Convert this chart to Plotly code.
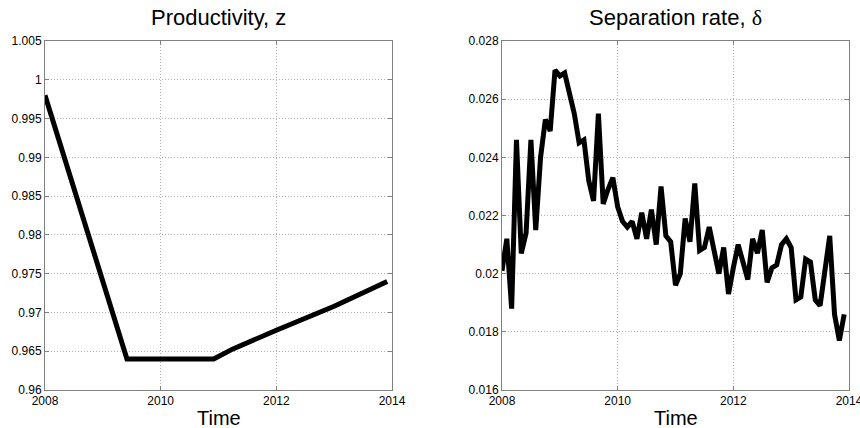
import plotly.graph_objects as go

# ---- data ----
z_time = [2008.0, 2009.417, 2010.917, 2011.25, 2012.0, 2013.0, 2013.917]
z_vals = [0.998, 0.964, 0.964, 0.9653, 0.9677, 0.9708, 0.974]

delta_start = 2008.0
delta_vals = [
    0.0201, 0.0212, 0.0188, 0.0246, 0.0207, 0.0214, 0.0246, 0.0215, 0.0240, 0.0253, 0.0249, 0.0270,
    0.0268, 0.0269, 0.0262, 0.0255, 0.0245, 0.0246, 0.0232, 0.0225, 0.0255, 0.0224, 0.0229, 0.0233,
    0.0223, 0.0218, 0.0216, 0.0218, 0.0212, 0.0221, 0.0212, 0.0222, 0.0210, 0.0230, 0.0213, 0.0211,
    0.0196, 0.0200, 0.0219, 0.0211, 0.0231, 0.0208, 0.0209, 0.0216, 0.0208, 0.0200, 0.0209, 0.0193,
    0.0202, 0.0210, 0.0204, 0.0198, 0.0212, 0.0207, 0.0215, 0.0197, 0.0202, 0.0203, 0.0210, 0.0212,
    0.0209, 0.0191, 0.0192, 0.0205, 0.0204, 0.0191, 0.0189, 0.0200, 0.0213, 0.0186, 0.0177, 0.0186,
]
delta_time = [delta_start + i / 12 for i in range(len(delta_vals))]

x_ticks = [2008, 2010, 2012, 2014]
x_ticktext = ["2008", "2010", "2012", "2014"]
z_ticks = [0.96, 0.965, 0.97, 0.975, 0.98, 0.985, 0.99, 0.995, 1.0, 1.005]
z_ticktext = ["0.96", "0.965", "0.97", "0.975", "0.98", "0.985", "0.99", "0.995", "1", "1.005"]
d_ticks = [0.016, 0.018, 0.020, 0.022, 0.024, 0.026, 0.028]
d_ticktext = ["0.016", "0.018", "0.02", "0.022", "0.024", "0.026", "0.028"]

titles = ["Productivity, z", 'Separation rate, <span style="font-family:Liberation Serif">δ</span>']
xlabel = "Time"

# ---- figure ----
W, H = 860, 428
fig = go.Figure()
fig.add_trace(go.Scatter(x=z_time, y=z_vals, mode="lines",
                         line=dict(color="black", width=5), xaxis="x", yaxis="y",
                         showlegend=False, hoverinfo="skip"))
fig.add_trace(go.Scatter(x=delta_time, y=delta_vals, mode="lines",
                         line=dict(color="black", width=5), xaxis="x2", yaxis="y2",
                         showlegend=False, hoverinfo="skip"))

dom_l = [45 / W, 392 / W]
dom_r = [502 / W, 849 / W]
dom_y = [1 - 390 / H, 1 - 41 / H]

frame = dict(showline=True, linecolor="#808080", linewidth=1, mirror="ticks",
             ticks="inside", ticklen=4, tickcolor="#808080", automargin=False,
             ticklabeloverflow="allow",
             showgrid=True, gridcolor="#b0b0b0", griddash="1px,2px", gridwidth=1,
             zeroline=False, tickfont=dict(family="Liberation Sans, Arial", size=12, color="black"))

fig.update_layout(
    width=W, height=H, margin=dict(l=0, r=0, t=0, b=0),
    paper_bgcolor="white", plot_bgcolor="white",
    xaxis=dict(domain=dom_l, range=[2008, 2014], tickvals=x_ticks, ticktext=x_ticktext,
               anchor="y", **frame),
    yaxis=dict(domain=dom_y, range=[0.96, 1.005], tickvals=z_ticks, ticktext=z_ticktext,
               anchor="x", **frame),
    xaxis2=dict(domain=dom_r, range=[2008, 2014], tickvals=x_ticks, ticktext=x_ticktext,
                anchor="y2", **frame),
    yaxis2=dict(domain=dom_y, range=[0.016, 0.028], tickvals=d_ticks, ticktext=d_ticktext,
                anchor="x2", **frame),
)

font_t = dict(family="Liberation Sans, Arial", size=22, color="black")
for i, dom in enumerate([dom_l, dom_r]):
    cx = (dom[0] + dom[1]) / 2
    fig.add_annotation(text=titles[i], x=cx, y=1 - 18 / H, xref="paper", yref="paper",
                       showarrow=False, font=font_t, xanchor="center", yanchor="middle")
    fig.add_annotation(text=xlabel, x=cx, y=1 - 418 / H, xref="paper", yref="paper",
                       showarrow=False, font=dict(family="Liberation Sans, Arial", size=20, color="black"),
                       xanchor="center", yanchor="middle")

fig.write_html("out.html")
